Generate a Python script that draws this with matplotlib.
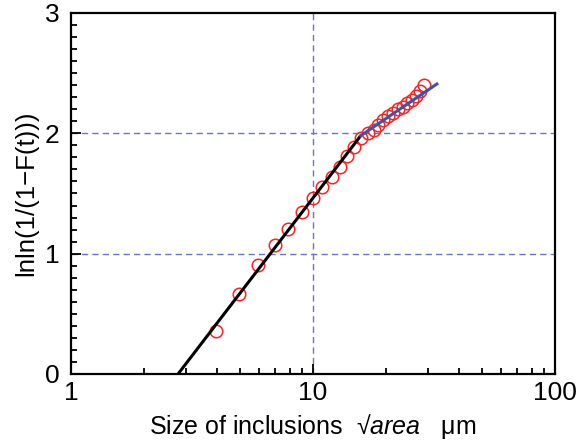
import numpy as np
import matplotlib
matplotlib.use("Agg")
import matplotlib.pyplot as plt
from matplotlib.ticker import FixedLocator, MultipleLocator, NullFormatter

plt.rcParams['font.family'] = ['Liberation Sans', 'DejaVu Sans']
plt.rcParams['mathtext.fontset'] = 'custom'
plt.rcParams['mathtext.it'] = 'Liberation Sans:italic'
plt.rcParams['mathtext.rm'] = 'Liberation Sans'

# measured data (size of inclusions, lnln(1/(1-F)))
size_um = [3.97, 4.94, 5.94, 6.97, 7.92, 8.97, 9.96, 10.9, 11.94, 12.93,
           13.83, 14.8, 15.73, 16.95, 17.8, 18.6, 19.5, 20.4, 21.5, 22.5,
           23.5, 24.5, 25.6, 26.6, 27.7, 28.8]
lnln = [0.357, 0.665, 0.906, 1.072, 1.205, 1.345, 1.46, 1.555, 1.64, 1.72,
        1.81, 1.89, 1.96, 2.00, 2.03, 2.07, 2.11, 2.14, 2.17, 2.20,
        2.22, 2.25, 2.28, 2.31, 2.35, 2.40]

# fitted lines (end points)
fit1_x = [2.77, 15.75]
fit1_y = [0.0, 1.98]
fit2_x = [15.75, 32.5]
fit2_y = [1.98, 2.41]

grid_color = '#6b73c6'

fig = plt.figure(figsize=(5.79, 4.45), dpi=100)
ax = fig.add_axes([0.1226, 0.1596, 0.8359, 0.8112])

ax.axhline(1, color=grid_color, ls=(0, (4.5, 3)), lw=1.0, zorder=1)
ax.axhline(2, color=grid_color, ls=(0, (4.5, 3)), lw=1.0, zorder=1)
ax.axvline(10, color=grid_color, ls=(0, (4.5, 3)), lw=1.0, zorder=1)

ax.plot(size_um, lnln, 'o', mfc='none', mec='#ff2020', ms=9, mew=1.1, zorder=3)
ax.plot(fit1_x, fit1_y, color='black', lw=2.2, zorder=4)
ax.plot(fit2_x, fit2_y, color='#3a55b0', lw=2.2, zorder=4)

ax.set_xscale('log')
ax.set_xlim(1, 100)
ax.set_ylim(0, 3)
ax.xaxis.set_major_locator(FixedLocator([1, 10, 100]))
ax.xaxis.set_minor_locator(FixedLocator([i * d for d in (1, 10) for i in range(2, 10)]))
ax.xaxis.set_minor_formatter(NullFormatter())
ax.set_xticklabels(['1', '10', '100'])
ax.yaxis.set_major_locator(MultipleLocator(1))
ax.yaxis.set_minor_locator(MultipleLocator(0.1))

ax.tick_params(which='both', direction='in', top=False, right=False, width=1.3, labelsize=19)
ax.tick_params(which='major', length=7)
ax.tick_params(which='minor', length=4)
ax.tick_params(axis='x', pad=5)
ax.tick_params(axis='y', pad=8)
for s in ax.spines.values():
    s.set_linewidth(1.6)

ax.set_xlabel(r'Size of inclusions  √$\mathit{area}$   μm', fontsize=18, labelpad=5)
ax.set_ylabel('lnln(1/(1\u2212F(t)))', fontsize=18.5, labelpad=5)

fig.savefig('out.png', dpi=100)
